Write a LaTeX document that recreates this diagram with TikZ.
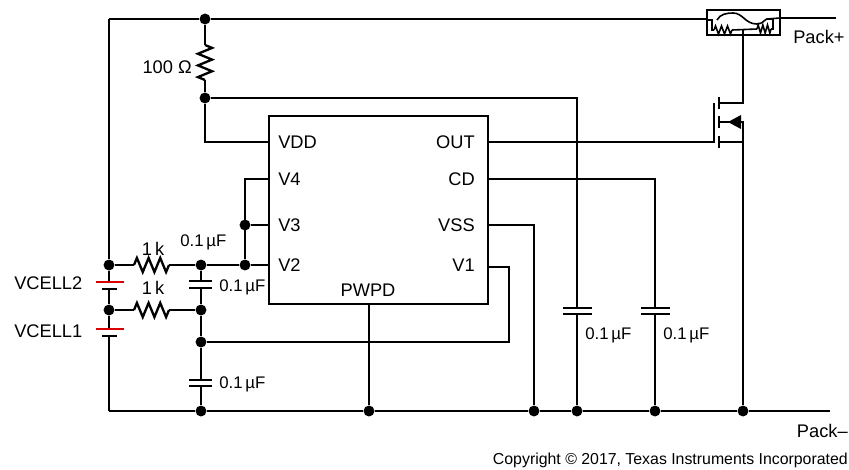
\documentclass[tikz,border=0pt]{standalone}
\usepackage{fontspec}
\setmainfont{Liberation Sans}
\usetikzlibrary{decorations.pathmorphing}
\tikzset{
  x=0.75pt,y=-0.75pt,
  wire/.style={line width=1.75pt,black},
  dot/.style={circle,fill=black,inner sep=0pt,minimum size=8.2pt},
  lbl/.style={inner sep=0pt,font=\fontsize{13.7}{16}\selectfont,anchor=base west},
  lblr/.style={inner sep=0pt,font=\fontsize{13.7}{16}\selectfont,anchor=base east},
  lblc/.style={inner sep=0pt,font=\fontsize{13.7}{16}\selectfont,anchor=base},
  capl/.style={inner sep=0pt,font=\fontsize{12.6}{15}\selectfont,anchor=base west},
  chip/.style={draw,line width=1.4pt,inner sep=0pt,anchor=north west,minimum width=164.5pt,minimum height=141pt},
  res/.style={wire,decorate,decoration={zigzag,amplitude=5.3pt,segment length=8.75pt}},
  plate/.style={line width=1.75pt,black},
  redplate/.style={line width=1.75pt,red!85!black},
  fusebox/.style={draw,line width=1.5pt,inner sep=0pt,anchor=north west,minimum width=54.75pt,minimum height=18.75pt},
  fuseline/.style={line width=1.2pt,black},
  fres/.style={fuseline,decorate,decoration={zigzag,amplitude=3pt,segment length=#1}},
}
\begin{document}
\begin{tikzpicture}
\useasboundingbox (0,0) rectangle (849,469);
% junctions
\node[dot] (top) at (205,19) {};
\node[dot] (rb) at (205,98) {};
\node[dot] (v3) at (245,225) {};
\node[dot] (v2j) at (245,265) {};
\node[dot] (cj1) at (201,265) {};
\node[dot] (cj2) at (201,310) {};
\node[dot] (cj3) at (201,342) {};
\node[dot] (bL1) at (109,265) {};
\node[dot] (bL2) at (109,310) {};
\node[dot] (g1) at (201,411) {};
\node[dot] (g2) at (369,411) {};
\node[dot] (g3) at (534,411) {};
\node[dot] (g4) at (577,411) {};
\node[dot] (g5) at (655,411) {};
\node[dot] (g6) at (743,411) {};
% chip
\node[chip] (ic) at (268,115) {};
\coordinate (pVDD) at (268,142);
\coordinate (pV4) at (268,179);
\coordinate (pV3) at (268,225);
\coordinate (pV2) at (268,265);
\coordinate (pOUT) at (488,142);
\coordinate (pCD) at (488,179);
\coordinate (pVSS) at (488,225);
\coordinate (pV1) at (488,267);
\coordinate (pPW) at (369,303);
% free ends
\coordinate (tl) at (109,19);
\coordinate (bl) at (109,411);
\coordinate (br) at (830,411);
\coordinate (pr) at (836,18);
% fuse
\node[fusebox] (fuse) at (706,9) {};
% resistors
\coordinate (r1a) at (205,45);\coordinate (r1b) at (205,80);
\coordinate (r2a) at (134,265);\coordinate (r2b) at (169,265);
\coordinate (r3a) at (134,310);\coordinate (r3b) at (169,310);
% wires
\draw[wire] (tl) -- (top) -- (fuse.west |- top);
\draw[wire] (fuse.east |- pr) -- (pr);
\draw[wire] (tl) -- (bL1);
\draw[wire] (top) -- (r1a);
\draw[res] (r1a) -- (r1b);
\draw[wire] (r1b) -- (rb);
\draw[wire] (rb) |- (pVDD);
\coordinate (c1t) at (577,308);\coordinate (c1b) at (577,314);
\coordinate (c2t) at (655,308);\coordinate (c2b) at (655,314);
\draw[wire] (rb) -| (c1t);
\draw[wire] (c1b) -- (g4);
\draw[wire] (pCD) -| (c2t);
\draw[wire] (c2b) -- (g5);
\draw[plate] (563,308) -- (592,308) (563,314) -- (592,314);
\draw[plate] (641,308) -- (670,308) (641,314) -- (670,314);
\draw[wire] (pVSS) -| (g3);
\draw[wire] (pV3) -- (v3);
\draw[wire] (pV4) -| (v2j);
\draw[wire] (pV2) -- (v2j) -- (cj1) -- (r2b);
\draw[res] (r2a) -- (r2b);
\draw[wire] (r2a) -- (bL1);
\draw[wire] (bL2) -- (r3a);
\draw[res] (r3a) -- (r3b);
\draw[wire] (r3b) -- (cj2);
% C at x=201
\coordinate (c3t) at (201,281);\coordinate (c3b) at (201,288);
\coordinate (c4t) at (201,380);\coordinate (c4b) at (201,386);
\draw[wire] (cj1) -- (c3t);
\draw[wire] (c3b) -- (cj2) -- (cj3) -- (c4t);
\draw[wire] (c4b) -- (g1);
\draw[plate] (189,281) -- (212,281) (189,288) -- (212,288);
\draw[plate] (189,380) -- (212,380) (189,386) -- (212,386);
% V1
\draw[wire] (pV1) -- (509,267) -- (509,342) -- (cj3);
% bottom
\draw[wire] (pPW) -- (g2);
\draw[wire] (bl) -- (g1) -- (g2) -- (g3) -- (g4) -- (g5) -- (g6) -- (br);
% batteries
\coordinate (b1t) at (109,282);\coordinate (b1b) at (109,289);
\coordinate (b2t) at (109,329);\coordinate (b2b) at (109,336);
\draw[wire] (bL1) -- (b1t);
\draw[wire] (b1b) -- (bL2) -- (b2t);
\draw[wire] (b2b) -- (bl);
\draw[redplate] (96,282) -- (124,282);
\draw[plate] (102,289) -- (117,289);
\draw[redplate] (96,329) -- (124,329);
\draw[plate] (102,336) -- (117,336);
% mosfet
\coordinate (gate) at (714,142);
\coordinate (gtop) at (714,103);
\coordinate (d1) at (719,103);\coordinate (d2) at (743,103);
\coordinate (s1) at (719,142);\coordinate (s2) at (743,142);
\coordinate (b1) at (719,122);\coordinate (b2) at (743,122);
\coordinate (fuseb) at (743,30);
\draw[wire] (pOUT) -- (gate) -- (gtop);
\draw[wire] (719,97) -- (719,109) (719,116) -- (719,128) (719,136) -- (719,148);
\draw[wire] (d1) -- (d2) -- (fuseb);
\draw[wire] (s1) -- (s2);
\draw[wire] (b1) -- (b2) -- (g6);
\fill[black] (728,122) -- (741,115) -- (741,129) -- cycle;
% fuse inner
\draw[fuseline] (706,20) -- (712,20) -- (712,30) -- (714,30);
\draw[fres=4.5pt] (714,30) -- (732,30);
\draw[fuseline] (732,30) -- (757,29);
\draw[fres=3.5pt] (757,29) -- (771,29);
\draw[fuseline] (771,29) -- (773,29) -- (773,19) -- (767,19);
\draw[fuseline] (717,20) .. controls (720,14) and (727,13) .. (733,13)
  .. controls (743,13) and (745,24) .. (757,24) .. controls (763,24) and (765,19) .. (767,19)
  -- (780,18);
% labels
\node[lbl] (tVDD) at (278,148) {VDD};
\node[lbl] (tV4) at (278,185) {V4};
\node[lbl] (tV3) at (278,231) {V3};
\node[lbl] (tV2) at (278,271) {V2};
\node[lblc] (tPW) at (368,296) {PWPD};
\node[lblr] (tOUT) at (475,148) {OUT};
\node[lblr] (tCD) at (475,185) {CD};
\node[lblr] (tVSS) at (475,231) {VSS};
\node[lblr] (tV1) at (475,271) {V1};
\node[lblr] (t100) at (192,73) {100 Ω};
\node[lblc] (t1k1) at (153,255) {1\,k};
\node[lblc] (t1k2) at (153,294) {1\,k};
\node[capl] (tc1) at (180,246) {0.1\,µF};
\node[capl] (tc2) at (219,291) {0.1\,µF};
\node[capl] (tc3) at (219,388) {0.1\,µF};
\node[capl] (tc4) at (585,339) {0.1\,µF};
\node[capl] (tc5) at (663,339) {0.1\,µF};
\node[lbl] (tb2) at (14,289) {VCELL2};
\node[lbl] (tb1) at (14,337) {VCELL1};
\node[lbl] (tPp) at (793,43) {Pack+};
\node[lblr] (tPm) at (848,437) {Pack–};
\node[lblr,font=\fontsize{11.9}{14}\selectfont] (tcp) at (848,464) {Copyright © 2017, Texas Instruments Incorporated};
\end{tikzpicture}
\end{document}
